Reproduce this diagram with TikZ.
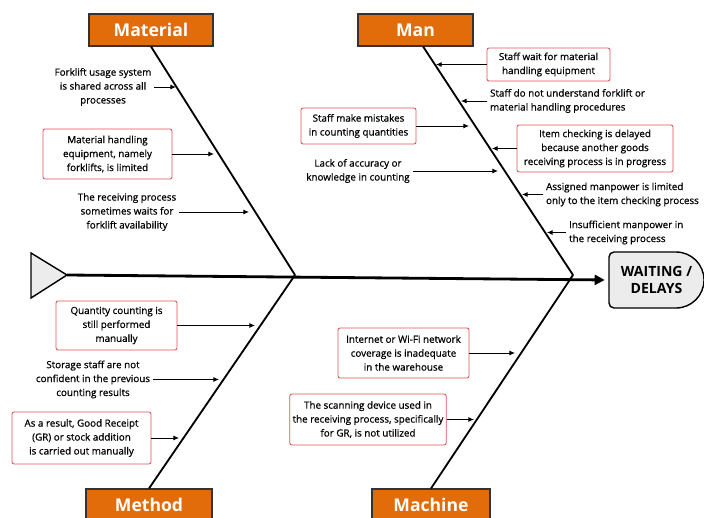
\documentclass[tikz,border=0pt]{standalone}
\usepackage{fontspec}
\setmainfont{Open Sans}
\newfontfamily\causefont{Open Sans}[FakeBold=0.7]
\usetikzlibrary{arrows.meta}
\definecolor{catorange}{HTML}{E36C0A}
\definecolor{boxred}{HTML}{E0505A}
\tikzset{
  cat/.style={draw=black!80, fill=catorange, text=white, font=\bfseries\fontsize{12.5}{14}\selectfont, minimum height=0.8cm, line width=0.8pt},
  cause/.style={font=\causefont\fontsize{7}{9.9}\selectfont, align=center, inner sep=2pt},
  causebox/.style={cause, draw=boxred, fill=white, rounded corners=1.5pt, line width=0.6pt},
  bone/.style={line width=1.3pt},
  spine/.style={line width=2pt},
  arr/.style={-{Latex[length=4pt,width=3.5pt]}, line width=0.6pt},
}

\begin{document}
\begin{tikzpicture}[x=0.025cm, y=-0.025cm]
\useasboundingbox (0,0) rectangle (704,518);

\node[cat, minimum width=3.1cm] (mat) at (151,30) {Material};
\node[cat, minimum width=2.875cm] (man) at (415.5,30) {Man};
\node[cat, minimum width=3.15cm] (met) at (149,505) {Method};
\node[cat, minimum width=2.95cm] (mac) at (431,505) {Machine};

\coordinate (tail) at (67,275);
\coordinate (j1) at (295,275);
\coordinate (j2) at (573,275);

\draw[fill=gray!15, line width=1pt] (676,252) arc[start angle=90, end angle=-90, radius=0.7cm] -- (614,308) to[out=180,in=-90] (609,303) -- (609,257) to[out=90,in=180] (614,252) -- cycle;
\node[font=\bfseries\fontsize{10}{12.5}\selectfont, align=center, minimum width=2.375cm, minimum height=1.4cm] (head) at (656.5,280) {WAITING /\\DELAYS};

\draw[fill=gray!15, line width=1pt] (31,253) -- (tail) -- (31,298) -- cycle;
\draw[spine, -{Triangle[length=0.25cm,width=0.25cm]}, shorten >=0.1cm] (tail) -- (head.west);

\draw[bone] (mat.south) -- (j1);
\draw[bone] ([xshift=0.19cm]man.south) -- (j2);
\draw[bone] (j1) -- (met.north);
\draw[bone] (j2) -- (mac.north);

\node[cause] (ma1) at (103,87) {Forklift usage system\\is shared across all\\processes};
\node[causebox, minimum width=3.225cm, minimum height=1.25cm] (ma2) at (107.5,154) {Material handling\\equipment, namely\\forklifts, is limited};
\node[cause] (ma3) at (127,212) {The receiving process\\sometimes waits for\\forklift availability};
\coordinate (ma1t) at (176,87);
\coordinate (ma2t) at (214,154);
\coordinate (ma3t) at (249,212);

\node[causebox, minimum width=3.075cm, minimum height=0.825cm] (mn1) at (548.5,64.5) {Staff wait for material\\handling equipment};
\node[cause, anchor=west, align=left] (mn2) at (487,101) {Staff do not understand forklift or\\material handling procedures};
\node[causebox, minimum width=2.875cm, minimum height=0.9cm] (mn3) at (358.5,126) {Staff make mistakes\\in counting quantities};
\node[causebox, minimum width=3.9cm, minimum height=1.175cm] (mn4) at (595,148.5) {Item checking is delayed\\because another goods\\receiving process is in progress};
\node[cause] (mn5) at (358,171) {Lack of accuracy or\\knowledge in counting};
\node[cause, anchor=west, align=left] (mn6) at (543,194.5) {Assigned manpower is limited\\only to the item checking process};
\node[cause, anchor=west, align=left] (mn7) at (566,232.5) {Insufficient manpower in\\the receiving process};
\coordinate (mn1t) at (436,64.5);
\coordinate (mn2t) at (461,101);
\coordinate (mn3t) at (469,126);
\coordinate (mn4t) at (492,148.5);
\coordinate (mn5t) at (498,171);
\coordinate (mn6t) at (522,194.5);
\coordinate (mn7t) at (547,232.5);

\node[causebox, minimum width=3.025cm, minimum height=1.225cm] (me1) at (116.5,325.5) {Quantity counting is\\still performed\\manually};
\node[cause] (me2) at (93,379.5) {Storage staff are not\\confident in the previous\\counting results};
\node[causebox, minimum width=3.475cm, minimum height=1.3cm] (me3) at (81.5,438) {As a result, Good Receipt\\(GR) or stock addition\\is carried out manually};
\coordinate (me1t) at (255,325.5);
\coordinate (me2t) at (219,379.5);
\coordinate (me3t) at (179,438);

\node[causebox, minimum width=3.275cm, minimum height=1.25cm] (mc1) at (403.5,353) {Internet or Wi-Fi network\\coverage is inadequate\\in the warehouse};
\node[causebox, minimum width=3.9cm, minimum height=1.275cm] (mc2) at (368,419.5) {The scanning device used in\\the receiving process, specifically\\for GR, is not utilized};
\coordinate (mc1t) at (515,353);
\coordinate (mc2t) at (474,419.5);

\draw[arr] (ma1) -- (ma1t);
\draw[arr] (ma2) -- (ma2t);
\draw[arr] (ma3) -- (ma3t);
\draw[arr] (mn1) -- (mn1t);
\draw[arr] (mn2) -- (mn2t);
\draw[arr] (mn3) -- (mn3t);
\draw[arr] (mn4) -- (mn4t);
\draw[arr] (mn5) -- (mn5t);
\draw[arr] (mn6) -- (mn6t);
\draw[arr] (mn7) -- (mn7t);
\draw[arr] (me1) -- (me1t);
\draw[arr] (me2) -- (me2t);
\draw[arr] (me3) -- (me3t);
\draw[arr] (mc1) -- (mc1t);
\draw[arr] (mc2) -- (mc2t);
\end{tikzpicture}
\end{document}
